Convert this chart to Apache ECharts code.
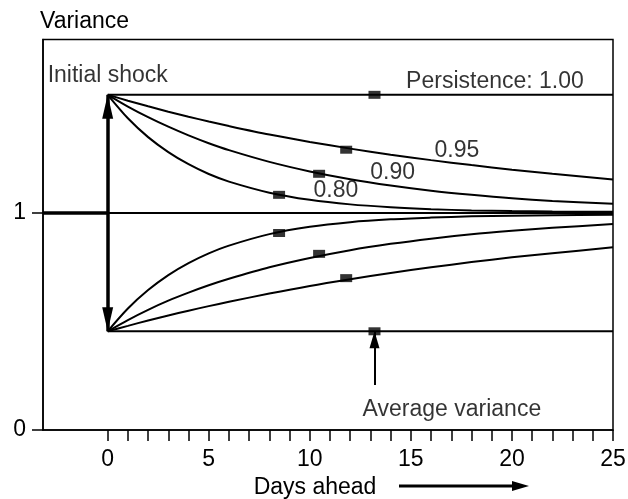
<!DOCTYPE html>
<html><head><meta charset="utf-8">
<script src="https://cdn.jsdelivr.net/npm/echarts@6/dist/echarts.min.js"></script>
<style>html,body{margin:0;padding:0;background:#fff}#c{width:628px;height:499px}</style>
</head><body><div id="c"></div><script>
// ---- data ----
const days = [0, 1, 2, 3, 4, 5, 6, 8, 10, 12, 14, 16, 18, 20, 22, 25];
const upper095 = [1.545, 1.518, 1.492, 1.467, 1.444, 1.422, 1.401, 1.362, 1.328, 1.297, 1.269, 1.244, 1.221, 1.200, 1.181, 1.155];
const lower095 = [0.455, 0.480, 0.505, 0.528, 0.550, 0.571, 0.591, 0.629, 0.664, 0.695, 0.724, 0.750, 0.774, 0.796, 0.815, 0.842];
const upper090 = [1.545, 1.491, 1.442, 1.398, 1.358, 1.322, 1.290, 1.236, 1.192, 1.156, 1.127, 1.103, 1.084, 1.068, 1.056, 1.043];
const lower090 = [0.455, 0.507, 0.554, 0.596, 0.633, 0.667, 0.697, 0.750, 0.793, 0.829, 0.858, 0.882, 0.902, 0.918, 0.932, 0.949];
const upper080 = [1.545, 1.437, 1.350, 1.281, 1.225, 1.180, 1.145, 1.094, 1.061, 1.040, 1.027, 1.018, 1.012, 1.009, 1.007, 1.006];
const lower080 = [0.455, 0.560, 0.645, 0.714, 0.769, 0.814, 0.850, 0.903, 0.937, 0.958, 0.971, 0.979, 0.985, 0.988, 0.990, 0.992];
const shockHigh = 1.545;
const shockLow = 0.455;
const averageVariance = 1;
const xStart = -3.2;
const xEnd = 25;
const markerDays  = [13.2, 11.8, 10.46, 8.48];
const markerUpper = [1.545, 1.292, 1.181, 1.084];
const markerLower = [0.455, 0.700, 0.812, 0.908];
const xTicks = [0,1,2,3,4,5,6,7,8,9,10,11,12,13,14,15,16,17,18,19,20,21,22,23,24,25];
const xTickLabels = [0, 5, 10, 15, 20, 25];
const yTicks = [0, 1];
const labelNames = ['Persistence: 1.00', '0.95', '0.90', '0.80', 'Initial shock', 'Average variance'];
const labelX = [19.16, 17.28, 14.1, 11.29, -2.97, 17.03];
const labelY = [1.606, 1.287, 1.186, 1.103, 1.634, 0.092];
const avgArrowFrom = 0.208;

// ---- chart ----
const FONT = '"Liberation Sans", Arial, Helvetica, sans-serif';
const FS = 23;
const chart = echarts.init(document.getElementById('c'), null, {renderer: 'canvas'});
const pts = ys => days.map((d, i) => [d, ys[i]]);
const base = {type: 'line', symbol: 'none', showSymbol: false, smooth: 0.3, silent: true,
  lineStyle: {color: '#000', width: 2}, z: 3};

const curves = [upper095, lower095, upper090, lower090, upper080, lower080].map((ys, i) =>
  Object.assign({}, base, {name: 'c' + i, data: pts(ys)}));

const option = {
  animation: false,
  backgroundColor: '#fff',
  textStyle: {fontFamily: FONT},
  grid: {left: 43, right: 15, top: 39.5, bottom: 69, containLabel: false, outerBoundsMode: 'none',
    show: true, borderColor: '#000', borderWidth: 1.5, backgroundColor: '#fff'},
  xAxis: {
    type: 'value', min: xStart, max: xEnd,
    name: 'Days ahead', nameLocation: 'middle', nameGap: 46,
    nameTextStyle: {color: '#000', fontSize: FS, fontFamily: FONT, padding: [0, 26, 0, 0]},
    axisLine: {show: true, onZero: false, lineStyle: {color: '#000', width: 1.5}},
    axisTick: {show: true, length: 11, customValues: xTicks, lineStyle: {color: '#000', width: 1.5}},
    axisLabel: {customValues: xTickLabels, margin: 18, color: '#000', fontSize: FS, fontFamily: FONT},
    splitLine: {show: false}
  },
  yAxis: {
    type: 'value', min: 0, max: 1.8,
    name: 'Variance', nameLocation: 'end', nameGap: 18,
    nameTextStyle: {color: '#000', fontSize: FS, fontFamily: FONT, align: 'left', verticalAlign: 'middle', padding: [0, 0, 0, -3]},
    axisLine: {show: true, onZero: false, lineStyle: {color: '#000', width: 1.5}},
    axisTick: {show: true, length: 11, customValues: yTicks, lineStyle: {color: '#000', width: 1.5}},
    axisLabel: {customValues: yTicks, margin: 17, color: '#000', fontSize: FS, fontFamily: FONT},
    splitLine: {show: false}
  },
  series: [
    Object.assign({}, base, {name: 'avg-left', smooth: false, data: [[xStart, averageVariance], [0, averageVariance]], lineStyle: {color: '#000', width: 3.5}}),
    Object.assign({}, base, {name: 'avg', smooth: false, data: [[0, averageVariance], [xEnd, averageVariance]], lineStyle: {color: '#000', width: 2}}),
    Object.assign({}, base, {name: 'p100-up', smooth: false, data: [[0, shockHigh], [xEnd, shockHigh]],
      markLine: {silent: true, symbol: ['triangle', 'triangle'], symbolSize: [11, 24], symbolOffset: [[0, 12], [0, 12]],
        lineStyle: {color: '#000', width: 3.5, type: 'solid'}, label: {show: false},
        data: [[{coord: [0, shockHigh]}, {coord: [0, shockLow]}]]}}),
    Object.assign({}, base, {name: 'p100-low', smooth: false, data: [[0, shockLow], [xEnd, shockLow]],
      markLine: {silent: true, symbol: ['none', 'triangle'], symbolSize: [10, 17], symbolOffset: [[0, 0], [0, 8.5]],
        lineStyle: {color: '#000', width: 2, type: 'solid'}, label: {show: false},
        data: [[{coord: [markerDays[0], avgArrowFrom]}, {coord: [markerDays[0], shockLow]}]]}}),
    ...curves,
    {type: 'scatter', name: 'markers', symbol: 'rect', symbolSize: [12, 8], silent: true, z: 5,
      itemStyle: {color: '#000'},
      data: markerDays.map((d, i) => [d, markerUpper[i]]).concat(markerDays.map((d, i) => [d, markerLower[i]]))},
    {type: 'scatter', name: 'labels', symbolSize: 0, silent: true, z: 6,
      label: {show: true, position: 'inside', color: '#000', fontSize: FS, fontFamily: FONT, formatter: p => p.name},
      data: labelNames.map((n, i) => ({name: n, value: [labelX[i], labelY[i]],
        label: n === 'Initial shock' ? {align: 'left'} : {}}))}
  ],
  graphic: [
    {type: 'line', shape: {x1: 399, y1: 486, x2: 516, y2: 486}, style: {stroke: '#000', lineWidth: 3}},
    {type: 'polygon', shape: {points: [[512, 481], [529, 486], [512, 491]]}, style: {fill: '#000'}}
  ]
};
chart.setOption(option);
</script></body></html>
